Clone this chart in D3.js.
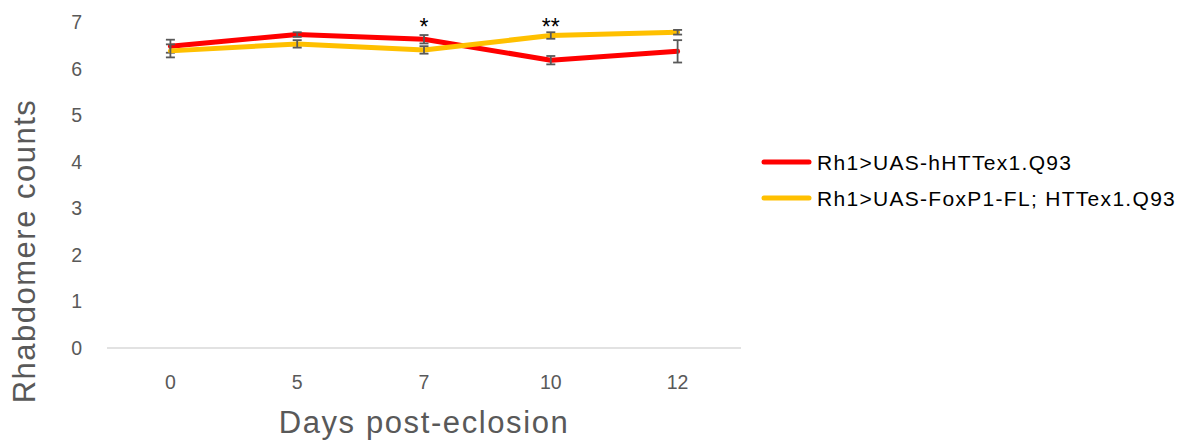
<!DOCTYPE html>
<html>
<head>
<meta charset="utf-8">
<script src="https://cdn.jsdelivr.net/npm/d3@7"></script>
<style>
  html, body { margin: 0; padding: 0; background: #fff; }
  svg { display: block; font-family: "Liberation Sans", Arial, sans-serif; }
</style>
</head>
<body>
<svg id="chart" width="1193" height="441"></svg>
<script>
// Days post-eclosion (category axis)
const days = ["0", "5", "7", "10", "12"];

// Rh1>UAS-hHTTex1.Q93: mean rhabdomere counts and error
const htt = [6.48, 6.73, 6.63, 6.18, 6.37];
const httErr = [0.14, 0.05, 0.09, 0.09, 0.24];

// Rh1>UAS-FoxP1-FL; HTTex1.Q93: mean rhabdomere counts and error
const foxp1 = [6.38, 6.53, 6.40, 6.71, 6.78];
const foxp1Err = [0.14, 0.08, 0.08, 0.07, 0.05];

// Significance markers
const sigDays = ["7", "10"];
const sigLabels = ["*", "**"];
const sigValues = [7.0, 7.0];

const yTicks = [0, 1, 2, 3, 4, 5, 6, 7];

const seriesNames = ["Rh1>UAS-hHTTex1.Q93", "Rh1>UAS-FoxP1-FL; HTTex1.Q93"];
const seriesColors = ["#ff0000", "#ffc000"];

const svg = d3.select("#chart");

const x = d3.scaleBand().domain(days).range([107, 741]).padding(0);
const y = d3.scaleLinear().domain([0, 7]).range([348, 22]);
const cx = d => x(d) + x.bandwidth() / 2;

// Category axis line
svg.append("line")
  .attr("x1", x.range()[0]).attr("x2", x.range()[1])
  .attr("y1", y(0)).attr("y2", y(0))
  .attr("stroke", "#d9d9d9").attr("stroke-width", 1.5);

// Category labels
svg.append("g").selectAll("text").data(days).join("text")
  .attr("x", d => cx(d)).attr("y", 389)
  .attr("text-anchor", "middle")
  .attr("font-size", 19.5).attr("fill", "#595959")
  .text(d => d);

// Value labels
svg.append("g").selectAll("text").data(yTicks).join("text")
  .attr("x", 82).attr("y", d => y(d) + 7)
  .attr("text-anchor", "end")
  .attr("font-size", 19.5).attr("fill", "#595959")
  .text(d => d);

// Axis titles
svg.append("text")
  .attr("transform", `translate(35,251) rotate(-90)`)
  .attr("text-anchor", "middle")
  .attr("font-size", 31).attr("letter-spacing", 1.5).attr("fill", "#595959")
  .text("Rhabdomere counts");

svg.append("text")
  .attr("x", 424).attr("y", 433)
  .attr("text-anchor", "middle")
  .attr("font-size", 31).attr("letter-spacing", 1.6).attr("fill", "#595959")
  .text("Days post-eclosion");

// Series lines with error bars
const series = [
  { values: htt, errs: httErr, color: seriesColors[0] },
  { values: foxp1, errs: foxp1Err, color: seriesColors[1] }
];

const line = d3.line().x(d => cx(d.day)).y(d => y(d.v));

series.forEach(s => {
  const pts = days.map((d, i) => ({ day: d, v: s.values[i], e: s.errs[i] }));
  svg.append("path")
    .datum(pts)
    .attr("d", line)
    .attr("fill", "none")
    .attr("stroke", s.color)
    .attr("stroke-width", 5)
    .attr("stroke-linejoin", "round")
    .attr("stroke-linecap", "round");

  const eb = svg.append("g").attr("stroke", "#595959").attr("stroke-width", 1.8);
  pts.forEach(p => {
    const x0 = cx(p.day);
    const yHi = y(p.v + p.e), yLo = y(p.v - p.e);
    eb.append("line").attr("x1", x0).attr("x2", x0).attr("y1", yHi).attr("y2", yLo);
    eb.append("line").attr("x1", x0 - 4.5).attr("x2", x0 + 4.5).attr("y1", yHi).attr("y2", yHi);
    eb.append("line").attr("x1", x0 - 4.5).attr("x2", x0 + 4.5).attr("y1", yLo).attr("y2", yLo);
  });
});

// Significance markers
svg.append("g").selectAll("text").data(sigDays).join("text")
  .attr("x", d => cx(d))
  .attr("y", (d, i) => y(sigValues[i]) + 13)
  .attr("text-anchor", "middle")
  .attr("font-size", 23).attr("fill", "#000")
  .text((d, i) => sigLabels[i]);

// Legend
const legend = svg.append("g");
seriesNames.forEach((name, i) => {
  const ly = 162 + i * 36;
  legend.append("line")
    .attr("x1", 764).attr("x2", 809).attr("y1", ly).attr("y2", ly)
    .attr("stroke", seriesColors[i]).attr("stroke-width", 5)
    .attr("stroke-linecap", "round");
  legend.append("text")
    .attr("x", 817).attr("y", ly + 7.5)
    .attr("font-size", 21).attr("letter-spacing", 1.3).attr("fill", "#000")
    .text(name);
});
</script>
</body>
</html>
